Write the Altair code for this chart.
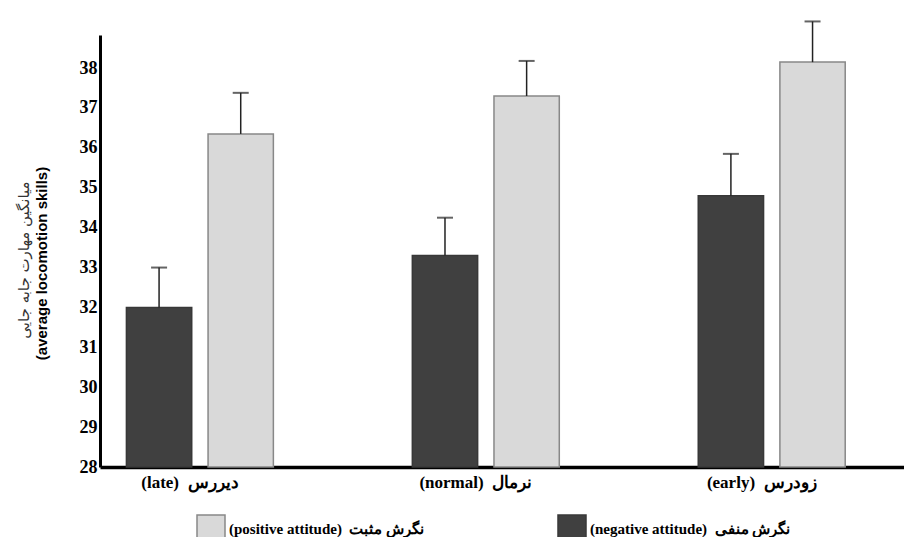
import altair as alt
import pandas as pd

NB = "\u00a0"
groups = ["(late)" + NB + NB + "دیررس", "(normal)" + NB + NB + "نرمال", "(early)" + NB + NB + "زودرس"]
attitudes = ["(positive attitude)" + NB + NB + "نگرش مثبت", "(negative attitude)" + NB + NB + "نگرش منفی"]
neg_means = [32.0, 33.3, 34.8]
neg_upper = [33.0, 34.25, 35.85]
pos_means = [36.35, 37.3, 38.15]
pos_upper = [37.38, 38.18, 39.17]
y_ticks = [28, 29, 30, 31, 32, 33, 34, 35, 36, 37, 38]
y_title_en = "(average locomotion skills)"
y_title_fa = "میانگین مهارت جابه جایی"

rows = []
for g, m, u in zip(groups, neg_means, neg_upper):
    rows.append({"group": g, "att": attitudes[1], "mean": m, "upper": u})
for g, m, u in zip(groups, pos_means, pos_upper):
    rows.append({"group": g, "att": attitudes[0], "mean": m, "upper": u})
df = pd.DataFrame(rows)

x_enc = alt.X("group:N", sort=groups,
              scale=alt.Scale(paddingInner=0.486, paddingOuter=0.149, align=0.31),
              axis=alt.Axis(title=None, labelAngle=0, ticks=False, domainColor="black",
                            domainWidth=3.5, labelFont="Liberation Serif", labelFontWeight="bold",
                            labelFontSize=17, labelColor="black", labelPadding=7, labelOffset=-10))
xoff = alt.XOffset("att:N", sort=[attitudes[1], attitudes[0]],
                   scale=alt.Scale(paddingInner=0.2, paddingOuter=0))
y_scale = alt.Scale(domain=[28, 38.83], nice=False, zero=False)

base = alt.Chart(df)

bars = base.mark_bar(strokeWidth=1.5).encode(
    x=x_enc,
    xOffset=xoff,
    y=alt.Y("mean:Q", scale=y_scale,
            axis=alt.Axis(values=y_ticks, title=y_title_en, ticks=False, grid=False,
                          domainColor="black", domainWidth=3, labelFont="Liberation Serif",
                          labelFontWeight="bold", labelFontSize=18, labelColor="black",
                          labelPadding=3, titleFont="Liberation Sans", titleFontWeight="bold",
                          titleFontSize=15, titleColor="black", titleAngle=270,
                          titleX=-59, titleY=228, titleAlign="center", titleBaseline="middle")),
    y2=alt.datum(28),
    fill=alt.Fill("att:N", sort=attitudes,
                  scale=alt.Scale(domain=attitudes, range=["#d9d9d9", "#404040"]),
                  legend=alt.Legend(title=None, orient="none", legendX=96, legendY=479,
                                    direction="horizontal", symbolType="square",
                                    symbolSize=784, symbolStrokeColor="#808080",
                                    symbolStrokeWidth=1.5, labelFont="Liberation Serif",
                                    labelFontWeight="bold", labelFontSize=15, labelColor="black",
                                    labelLimit=400, columnPadding=130, labelOffset=3, padding=0)),
    stroke=alt.Stroke("att:N", scale=alt.Scale(domain=attitudes, range=["#888888", "#383838"]),
                      legend=None),
)

rules = base.mark_rule(color="#222222", strokeWidth=1.5).encode(
    x=alt.X("group:N", sort=groups),
    xOffset=xoff,
    y=alt.Y("mean:Q"),
    y2="upper:Q",
)

caps = base.mark_tick(color="#222222", thickness=2, size=16, orient="horizontal").encode(
    x=alt.X("group:N", sort=groups),
    xOffset=xoff,
    y=alt.Y("upper:Q"),
)

fa_title = alt.Chart(pd.DataFrame({"t": [y_title_fa]})).mark_text(
    angle=270, font="DejaVu Sans", fontSize=15, color="#333333", align="center", baseline="middle"
).encode(text="t:N", x=alt.value(-76), y=alt.value(225))

chart = alt.layer(bars, rules, caps, fa_title).properties(
    width=804, height=432,
    padding={"left": 92, "top": 27, "right": 0, "bottom": 70},
    autosize=alt.AutoSizeParams(type="none"),
).configure_view(stroke=None)

chart.save("out.html", embed_options={"renderer": "svg", "actions": False})
